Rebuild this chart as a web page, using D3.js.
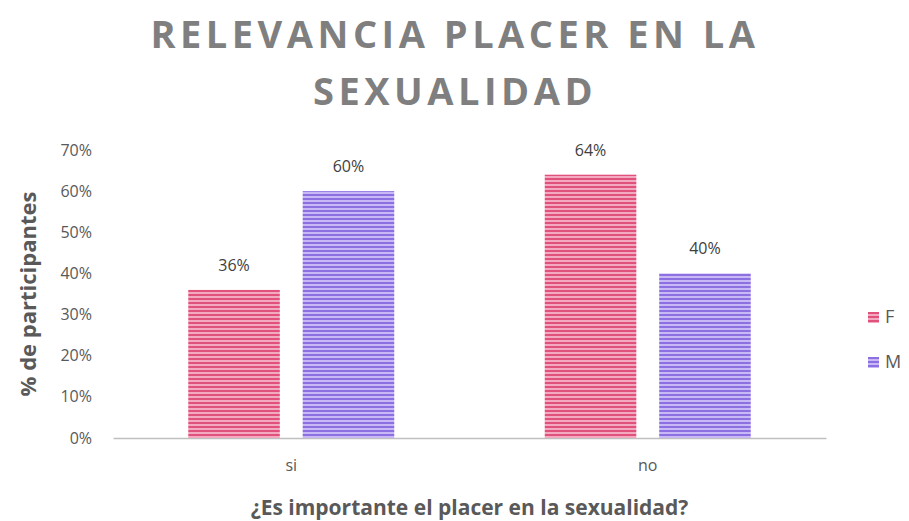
<!DOCTYPE html>
<html>
<head>
<meta charset="utf-8">
<script src="https://cdn.jsdelivr.net/npm/d3@7"></script>
<style>
  body { margin: 0; background: #fff; }
  text { font-family: "Open Sans", "Liberation Sans", sans-serif; }
</style>
</head>
<body>
<div id="chart"></div>
<script>
// data
var categories = ["si", "no"];
var seriesNames = ["F", "M"];
var valuesF = [0.36, 0.64];
var valuesM = [0.60, 0.40];
var yTicks = [0, 0.1, 0.2, 0.3, 0.4, 0.5, 0.6, 0.7];

var W = 909, H = 521;
var margin = {top: 150, right: 83, bottom: 83, left: 113};
var w = W - margin.left - margin.right;
var h = H - margin.top - margin.bottom;

var colors = {
  F: {dark: "#e0527c", light: "#f3a9bf"},
  M: {dark: "#8c70e2", light: "#c8b9f6"}
};

var svg = d3.select("#chart").append("svg")
  .attr("width", W)
  .attr("height", H);

// striped fills
var defs = svg.append("defs");
seriesNames.forEach(function(s) {
  var p = defs.append("pattern")
    .attr("id", "pat" + s)
    .attr("patternUnits", "userSpaceOnUse")
    .attr("width", 8)
    .attr("height", 4);
  p.append("rect").attr("width", 8).attr("height", 4).attr("fill", colors[s].light);
  p.append("rect").attr("width", 8).attr("height", 2).attr("fill", colors[s].dark);
});

// title
var title = svg.append("text")
  .attr("x", 455)
  .attr("text-anchor", "middle")
  .attr("fill", "#7f7f7f")
  .style("font-size", "38px")
  .style("font-weight", "bold")
  .style("letter-spacing", "4.5px");
title.append("tspan").attr("x", 455).attr("y", 48).text("RELEVANCIA PLACER EN LA");
title.append("tspan").attr("x", 455).attr("y", 105).text("SEXUALIDAD");

var g = svg.append("g")
  .attr("transform", "translate(" + margin.left + "," + margin.top + ")");

var x0 = d3.scaleBand().domain(categories).range([0, w]);
var x1 = d3.scaleBand().domain(seriesNames).range([0, 206]).paddingInner(0.2);
var y = d3.scaleLinear().domain([0, 0.7]).range([h, 0]);

// y axis labels
var yAxis = d3.axisLeft(y)
  .tickValues(yTicks)
  .tickFormat(d3.format(".0%"))
  .tickSize(0)
  .tickPadding(21);
var ya = g.append("g").call(yAxis);
ya.select(".domain").remove();
ya.selectAll("text")
  .attr("fill", "#595959")
  .style("font-size", "16px")
  .style("font-family", "'Open Sans', sans-serif");

// x axis
var xAxis = d3.axisBottom(x0).tickSize(0).tickPadding(22);
var xa = g.append("g")
  .attr("transform", "translate(0," + h + ")")
  .call(xAxis);
xa.select(".domain").attr("stroke", "#bfbfbf").attr("stroke-width", 1.5);
xa.selectAll("text")
  .attr("fill", "#595959")
  .style("font-size", "16px")
  .style("font-family", "'Open Sans', sans-serif");

// bars
var rows = categories.map(function(c, i) {
  return [{cat: c, s: "F", v: valuesF[i]}, {cat: c, s: "M", v: valuesM[i]}];
});
var groups = g.selectAll(".grp")
  .data(rows)
  .enter().append("g")
  .attr("class", "grp")
  .attr("transform", function(d) {
    return "translate(" + (x0(d[0].cat) + (x0.bandwidth() - 206) / 2) + ",0)";
  });

groups.selectAll("rect")
  .data(function(d) { return d; })
  .enter().append("rect")
  .attr("x", function(d) { return x1(d.s); })
  .attr("y", function(d) { return y(d.v); })
  .attr("width", x1.bandwidth())
  .attr("height", function(d) { return h - y(d.v); })
  .attr("fill", function(d) { return "url(#pat" + d.s + ")"; });

groups.selectAll(".lbl")
  .data(function(d) { return d; })
  .enter().append("text")
  .attr("class", "lbl")
  .attr("x", function(d) { return x1(d.s) + x1.bandwidth() / 2; })
  .attr("y", function(d) { return y(d.v) - 19; })
  .attr("text-anchor", "middle")
  .attr("fill", "#404040")
  .style("font-size", "16px")
  .text(function(d) { return d3.format(".0%")(d.v); });

// axis titles
svg.append("text")
  .attr("transform", "translate(36," + (margin.top + h / 2) + ") rotate(-90)")
  .attr("text-anchor", "middle")
  .attr("fill", "#595959")
  .style("font-size", "22px")
  .style("font-weight", "bold")
  .text("% de participantes");

svg.append("text")
  .attr("x", margin.left + w / 2)
  .attr("y", 515)
  .attr("text-anchor", "middle")
  .attr("fill", "#595959")
  .style("font-size", "21px")
  .style("font-weight", "bold")
  .text("¿Es importante el placer en la sexualidad?");

// legend
var leg = svg.selectAll(".leg")
  .data(seriesNames)
  .enter().append("g")
  .attr("class", "leg")
  .attr("transform", function(d, i) { return "translate(868," + (312 + i * 45) + ")"; });
leg.append("rect")
  .attr("width", 11).attr("height", 11)
  .attr("fill", function(d) { return "url(#pat" + d + ")"; });
leg.append("text")
  .attr("x", 17).attr("y", 11)
  .attr("fill", "#595959")
  .style("font-size", "18px")
  .text(function(d) { return d; });
</script>
</body>
</html>
